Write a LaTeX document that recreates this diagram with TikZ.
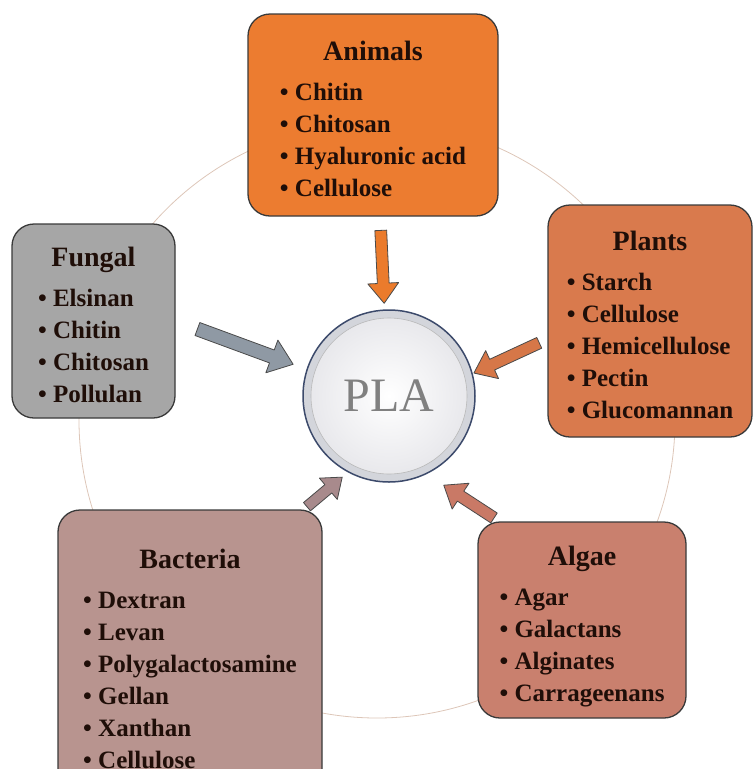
\documentclass[tikz,border=0pt]{standalone}
\usepackage{fontspec}
\setmainfont{Liberation Serif}
\usetikzlibrary{shapes.arrows}

\definecolor{animalC}{HTML}{EC7C30}
\definecolor{plantC}{HTML}{D97A4D}
\definecolor{fungalC}{HTML}{A6A6A6}
\definecolor{algaeC}{HTML}{C9806E}
\definecolor{bactC}{HTML}{B8948F}
\definecolor{animalA}{HTML}{EB7B2C}
\definecolor{plantA}{HTML}{D67748}
\definecolor{fungalA}{HTML}{8F99A4}
\definecolor{algaeA}{HTML}{C97966}
\definecolor{bactA}{HTML}{A88A8C}
\definecolor{edge}{HTML}{3A3A3A}
\definecolor{arrowedge}{HTML}{4A4A4A}
\definecolor{ink}{HTML}{1F0E08}
\definecolor{ring}{HTML}{DDC6B8}
\definecolor{hubedge}{HTML}{3C4A6B}
\definecolor{hubring}{HTML}{D3D5DB}
\definecolor{hubin}{HTML}{E6E6EA}
\definecolor{plagray}{HTML}{808080}

\newcommand{\boxtitle}[1]{\multicolumn{1}{@{}c@{}}{\rule{0pt}{36pt}\fontsize{28}{32}\selectfont #1}}

\begin{document}
\begin{tikzpicture}[x=1pt, y=-1pt, line join=round,
  source/.style={draw=edge, line width=1.3pt, rounded corners=22pt, inner sep=0pt,
    text=ink, font=\fontsize{25}{32}\selectfont\bfseries},
  feed/.style={single arrow, draw=arrowedge, line width=0.8pt, inner sep=5.5pt,
    minimum width=0pt, single arrow head extend=9.5pt, single arrow tip angle=75,
    sloped, allow upside down, midway, minimum height=#1}]
  \clip (0,0) rectangle (754,769);
  % faint ring behind the five sources
  \draw[ring, line width=0.8pt] (377,420) circle (298);

  % PLA hub
  \node[circle, draw=hubedge, line width=1.5pt, minimum size=172pt, inner sep=0pt,
    fill=hubring, text=plagray, font=\fontsize{48}{48}\selectfont,
    path picture={
      \shade[inner color=white, outer color=hubin] (path picture bounding box.center) circle (78pt);
      \draw[gray!55, line width=0.6pt] (path picture bounding box.center) circle (78pt);
    }] (pla) at (389,396) {PLA};

  % sources
  \node[source, fill=animalC, minimum width=250pt, minimum height=202pt] (animals) at (373,115)
    {\begin{tabular}{@{}l@{}}\boxtitle{Animals}\\[8pt]
      \textbullet~Chitin\\ \textbullet~Chitosan\\ \textbullet~Hyaluronic acid\\ \textbullet~Cellulose
    \end{tabular}};
  \node[source, fill=plantC, minimum width=204pt, minimum height=232pt] (plants) at (650,321)
    {\begin{tabular}{@{}l@{}}\boxtitle{Plants}\\[8pt]
      \textbullet~Starch\\ \textbullet~Cellulose\\ \textbullet~Hemicellulose\\ \textbullet~Pectin\\ \textbullet~Glucomannan
    \end{tabular}};
  \node[source, fill=fungalC, minimum width=163pt, minimum height=194pt] (fungal) at (93.5,321)
    {\begin{tabular}{@{}l@{}}\boxtitle{Fungal}\\[8pt]
      \textbullet~Elsinan\\ \textbullet~Chitin\\ \textbullet~Chitosan\\ \textbullet~Pollulan
    \end{tabular}};
  \node[source, fill=algaeC, minimum width=208pt, minimum height=196pt] (algae) at (582,620)
    {\begin{tabular}{@{}l@{}}\boxtitle{Algae}\\[8pt]
      \textbullet~Agar\\ \textbullet~Galactans\\ \textbullet~Alginates\\ \textbullet~Carrageenans
    \end{tabular}};
  \node[source, fill=bactC, minimum width=264pt, minimum height=290pt] (bacteria) at (190,655)
    {\begin{tabular}{@{}l@{}}\boxtitle{Bacteria}\\[8pt]
      \textbullet~Dextran\\ \textbullet~Levan\\ \textbullet~Polygalactosamine\\ \textbullet~Gellan\\ \textbullet~Xanthan\\ \textbullet~Cellulose
    \end{tabular}};

  % block arrows into the hub
  \coordinate (algae-tip) at (445,486);
  \coordinate (bact-tip) at (340,479);
  \path (animals.274) -- (pla.93) node[feed=73pt, fill=animalA] {};
  \path (plants.190) -- (pla.15) node[feed=72pt, fill=plantA] {};
  \path (fungal.east) -- (pla.162) node[feed=102pt, fill=fungalA, inner sep=6.5pt, single arrow head extend=10.5pt] {};
  \path (algae.130) -- (algae-tip) node[feed=60pt, fill=algaeA] {};
  \path (bacteria.52) -- (bact-tip) node[feed=46pt, fill=bactA, inner sep=5pt, single arrow head extend=8.5pt] {};
\end{tikzpicture}
\end{document}
